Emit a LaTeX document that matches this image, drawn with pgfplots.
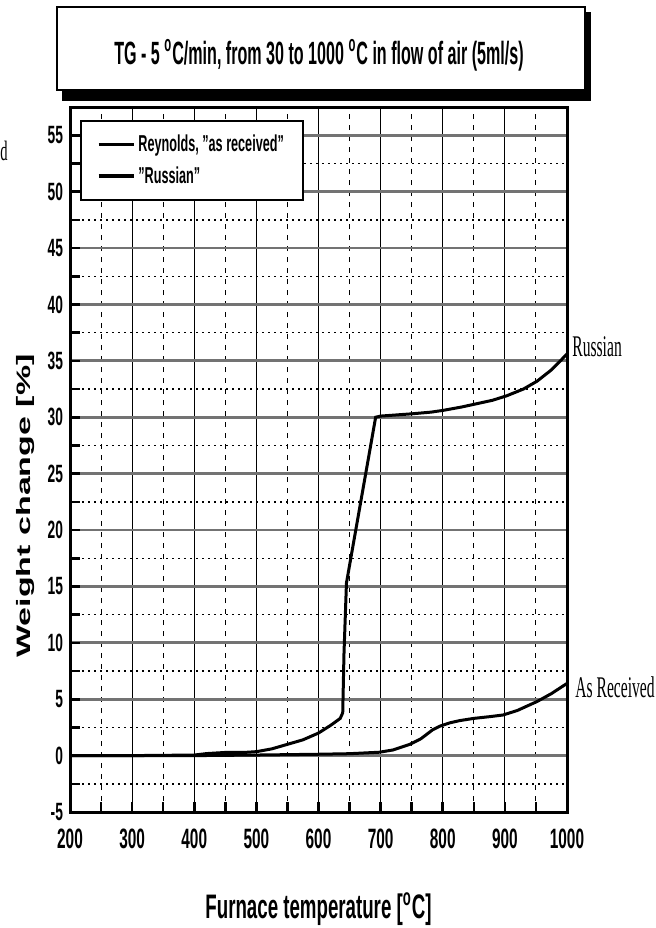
\documentclass[border=0pt]{standalone}
\usepackage{pgfplots}
\pgfplotsset{compat=1.18}
\usepackage{fontspec}
\setmainfont{Liberation Sans}[FakeStretch=0.55]
\newfontfamily\titlefont{Liberation Sans}[FakeStretch=0.5]
\newfontfamily\ylabfont{Liberation Sans}[FakeStretch=1.75]
\newfontfamily\serifc{Liberation Serif}[FakeStretch=0.52]

\pgfplotstableread{
T w
200 0
300 0
400 0
500 0.05
600 0.12
650 0.17
698 0.3
720 0.5
747 1.0
765 1.5
784 2.3
795 2.6
811 2.9
827 3.1
850 3.3
875 3.45
897 3.6
920 4.0
952 4.8
975 5.5
1000 6.4
}\asreceived

\pgfplotstableread{
T w
200 0
300 0
400 0.05
420 0.18
450 0.28
480 0.28
500 0.35
525 0.6
550 1.0
575 1.4
600 2.0
620 2.7
635 3.3
639 3.8
641 9
645 15.3
652 17.5
660 20
668 22.5
676 25
684 27.5
692 30
700 30.1
750 30.3
781 30.45
800 30.6
830 30.9
855 31.2
880 31.5
903 31.9
930 32.5
952 33.2
975 34.2
1000 35.6
}\russian

\begin{document}
\begin{tikzpicture}
\path[use as bounding box] (0pt,0pt) rectangle (327.5pt,-464pt);
% title box with shadow
\fill[black] (31pt,-6pt) rectangle (295.5pt,-50.5pt);
\draw[line width=0.9pt, fill=white] (28.5pt,-3.5pt) rectangle (292.5pt,-45pt);
\node[font=\titlefont\bfseries\fontsize{16.1}{17}\selectfont] at (159.5pt,-27.5pt)
  {TG - 5 \textsuperscript{o}C/min, from 30 to 1000 \textsuperscript{o}C in flow of air (5ml/s)};
% stray letter at left margin
\node[font=\serifc\fontsize{14}{14}\selectfont, anchor=base west, inner sep=0pt] at (0pt,-80pt) {d};

\begin{axis}[
  scale only axis, width=248.5pt, height=352.5pt,
  at={(35pt,-406pt)}, anchor=south west,
  xmin=200, xmax=1000, ymin=-5, ymax=57.5,
  xtick={200,300,...,1000}, minor xtick={250,350,...,950},
  ytick={-5,0,...,55}, minor ytick={-2.5,2.5,...,52.5},
  grid=both,
  major x grid style={black, line width=0.5pt},
  minor x grid style={black, line width=0.5pt, dash pattern=on 2.5pt off 3pt},
  major y grid style={black!55, line width=1.4pt},
  minor y grid style={black, line width=0.7pt, dash pattern=on 0.8pt off 2.2pt},
  axis line style={line width=1.5pt},
  tick pos=left, tick align=inside,
  major tick length=5pt, minor tick length=5pt,
  every tick/.style={black, line width=1.3pt},
  /pgf/number format/assume math mode=true,
  /pgf/number format/1000 sep={},
  xticklabel style={font=\bfseries\fontsize{14}{14}\selectfont, yshift=-5pt},
  yticklabel style={font=\bfseries\fontsize{12.5}{12.5}\selectfont},
  legend style={at={(axis description cs:0.0201,0.9816)}, anchor=north west,
    draw=black, line width=0.8pt, fill=white,
    inner xsep=8pt, inner ysep=5.5pt, row sep=3pt,
    nodes={inner sep=1.5pt},
    font=\bfseries\fontsize{11.5}{13}\selectfont},
  legend cell align=left,
  legend image code/.code={\draw[#1, line width=1.8pt] (0pt,0pt) -- (17.5pt,0pt);},
]
\addplot[black, line width=1.5pt] table[x=T, y=w] {\asreceived};
\addlegendentry{Reynolds, "as received"}
\addplot[black, line width=1.5pt] table[x=T, y=w] {\russian};
\addlegendentry{"Russian"}
\end{axis}

% axis titles
\node[font=\bfseries\fontsize{17}{17}\selectfont, anchor=base] at (159.25pt,-459pt)
  {Furnace temperature [\textsuperscript{o}C]};
\node[font=\ylabfont\bfseries\fontsize{9.7}{9.7}\selectfont, rotate=90, anchor=base] at (15.3pt,-253pt)
  {Weight change [\%]};
% curve labels
\node[font=\serifc\fontsize{15}{15}\selectfont, anchor=base west, inner sep=0pt] at (286pt,-178pt) {Russian};
\node[font=\serifc\fontsize{15}{15}\selectfont, anchor=base west, inner sep=0pt] at (287.5pt,-348.5pt) {As Received};
\end{tikzpicture}
\end{document}
